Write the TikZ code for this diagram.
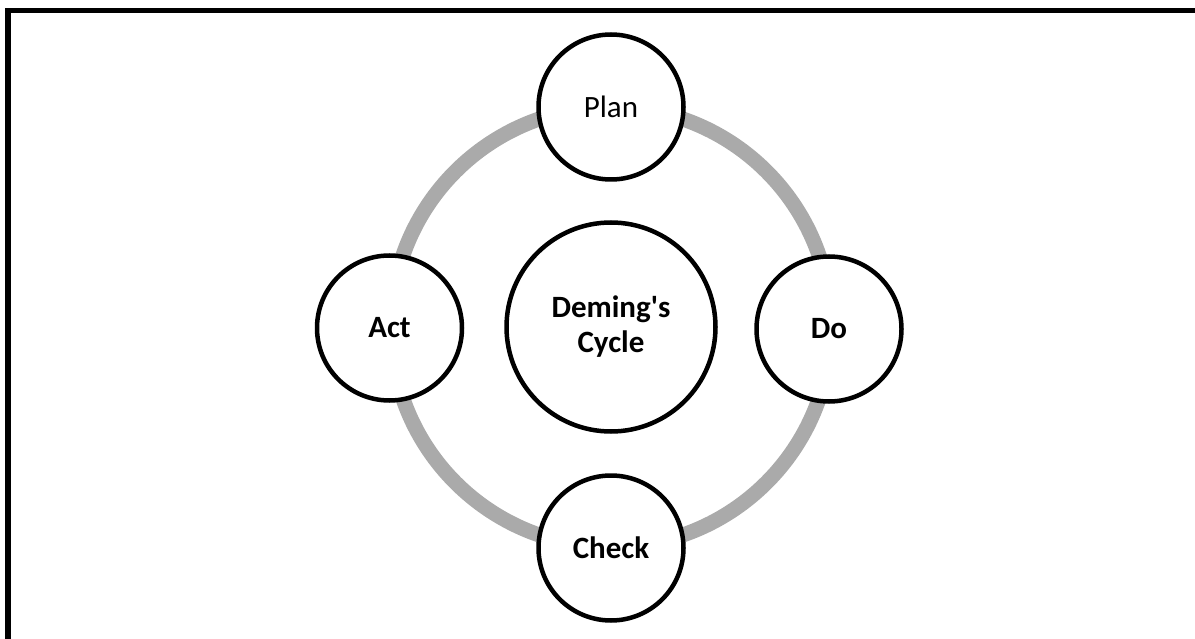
\documentclass[tikz,border=0pt]{standalone}
\usepackage{fontspec}
\setmainfont{Carlito}
\begin{document}
\begin{tikzpicture}[x=1pt,y=-1pt,
  stage/.style={circle,draw=black,line width=4.5pt,fill=white,minimum size=145pt,inner sep=0pt,font=\fontsize{31}{36}\selectfont},
  boldstage/.style={stage,font=\bfseries\fontsize{31}{36}\selectfont},
  hub/.style={circle,draw=black,line width=4.5pt,fill=white,minimum size=209pt,inner sep=0pt,align=center,font=\bfseries\fontsize{31}{35}\selectfont},
  ring/.style={draw={rgb,255:red,170;green,170;blue,170},line width=15pt}]
  \useasboundingbox (0,0) rectangle (1195,639);
  % frame (top and left edges)
  \draw[line width=5.5pt,line cap=rect] (8,639) -- (8,10.5) -- (1195,10.5);
  % cycle ring
  \coordinate (c) at (611,327);
  \draw[ring] (c) circle[radius=220];
  % stages
  \node[hub] (deming) at (c) {Deming\textquotesingle s\\Cycle};
  \node[stage] (plan) at (611,107) {Plan};
  \node[boldstage] (do) at (829,329) {Do};
  \node[boldstage] (check) at (611,548) {Check};
  \node[boldstage] (act) at (389.5,328) {Act};
\end{tikzpicture}
\end{document}
